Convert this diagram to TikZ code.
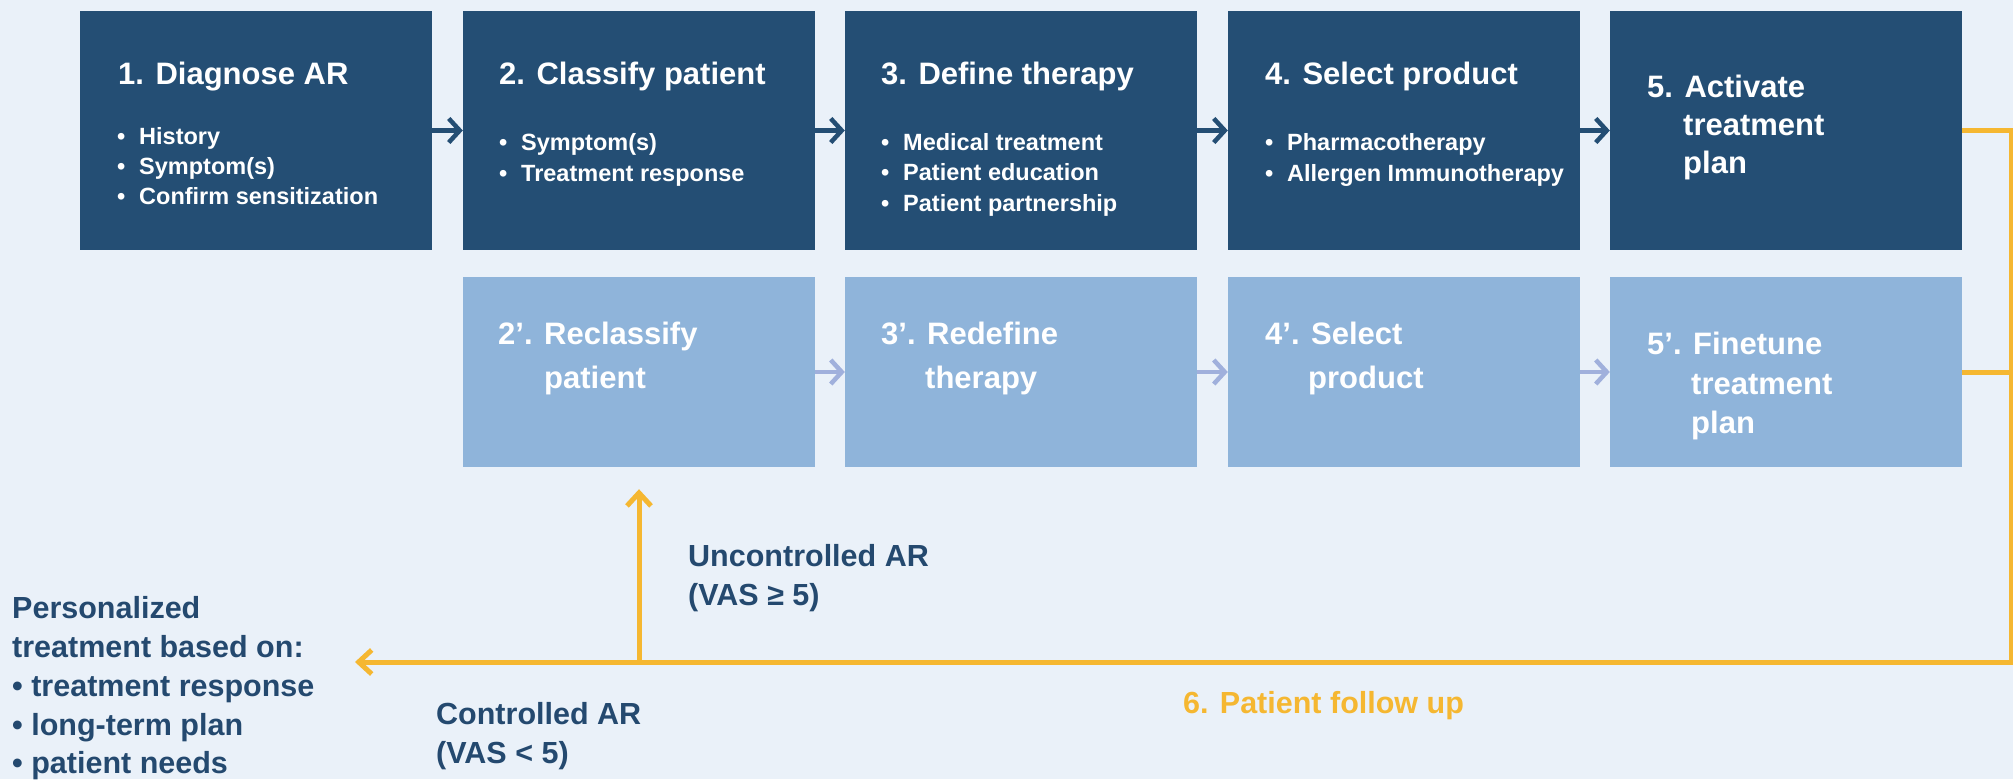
\documentclass[tikz,border=0pt]{standalone}
\usepackage{fontspec}
\setmainfont{Liberation Sans}
\usetikzlibrary{arrows.meta}
\definecolor{bgc}{HTML}{EAF1F9}
\definecolor{darkbox}{HTML}{244E74}
\definecolor{lightbox}{HTML}{8FB4DA}
\definecolor{yel}{HTML}{F5B731}
\definecolor{larrow}{HTML}{A0B0DC}
\definecolor{dtext}{HTML}{24496F}
\tikzset{
  dark/.style={fill=darkbox, draw=none, inner sep=0pt, minimum width=352pt, minimum height=239pt},
  light/.style={fill=lightbox, draw=none, inner sep=0pt, minimum width=352pt, minimum height=190pt},
  ttl/.style={anchor=base west, inner sep=0pt, text=white, font=\bfseries\fontsize{31}{38}\selectfont},
  bul/.style={anchor=base west, inner sep=0pt, text=white, font=\bfseries\fontsize{23.5}{30}\selectfont},
  lab/.style={anchor=base west, inner sep=0pt, text=dtext, font=\bfseries\fontsize{30.5}{38}\selectfont},
  darr/.style={draw=darkbox, line width=4.5pt, -{Straight Barb[length=11pt,width=24pt]}},
  larr/.style={draw=larrow, line width=4.5pt, -{Straight Barb[length=11pt,width=24pt]}},
  yline/.style={draw=yel, line width=5pt},
  yarr/.style={draw=yel, line width=5pt, -{Straight Barb[length=13pt,width=24pt]}}
}
\begin{document}
\begin{tikzpicture}[x=1pt, y=-1pt]
\fill[bgc] (0,0) rectangle (2013,779);
\useasboundingbox (0,0) rectangle (2013,779);
% top row
\node[dark] (b1) at (256,130.5) {};
\node[dark] (b2) at (639,130.5) {};
\node[dark] (b3) at (1021,130.5) {};
\node[dark] (b4) at (1404,130.5) {};
\node[dark] (b5) at (1786,130.5) {};
% bottom row
\node[light] (r2) at (639,372) {};
\node[light] (r3) at (1021,372) {};
\node[light] (r4) at (1404,372) {};
\node[light] (r5) at (1786,372) {};
% top arrows
\draw[darr] (b1.east) -- (b2.west);
\draw[darr] (b2.east) -- (b3.west);
\draw[darr] (b3.east) -- (b4.west);
\draw[darr] (b4.east) -- (b5.west);
% bottom arrows
\draw[larr] (r2.east) -- (r3.west);
\draw[larr] (r3.east) -- (r4.west);
\draw[larr] (r4.east) -- (r5.west);
% texts box 1
\node[ttl] (t1) at (118,84) {1. Diagnose AR};
\node[bul] (t1a) at (117,144) {•};
\node[bul] (t1b) at (139,144) {History};
\node[bul] (t1c) at (117,174) {•};
\node[bul] (t1d) at (139,174) {Symptom(s)};
\node[bul] (t1e) at (117,204) {•};
\node[bul] (t1f) at (139,204) {Confirm sensitization};
% box 2
\node[ttl] (t2) at (499,84) {2. Classify patient};
\node[bul] (t2a) at (499,150) {•};
\node[bul] (t2b) at (521,150) {Symptom(s)};
\node[bul] (t2c) at (499,181) {•};
\node[bul] (t2d) at (521,181) {Treatment response};
% box 3
\node[ttl] (t3) at (881,84) {3. Define therapy};
\node[bul] (t3a) at (881,150) {•};
\node[bul] (t3b) at (903,150) {Medical treatment};
\node[bul] (t3c) at (881,180.5) {•};
\node[bul] (t3d) at (903,180.5) {Patient education};
\node[bul] (t3e) at (881,211) {•};
\node[bul] (t3f) at (903,211) {Patient partnership};
% box 4
\node[ttl] (t4) at (1265,84) {4. Select product};
\node[bul] (t4a) at (1265,150) {•};
\node[bul] (t4b) at (1287,150) {Pharmacotherapy};
\node[bul] (t4c) at (1265,181) {•};
\node[bul] (t4d) at (1287,181) {Allergen Immunotherapy};
% box 5
\node[ttl] (t5) at (1647,97) {5. Activate};
\node[ttl] (t5b) at (1683,135) {treatment};
\node[ttl] (t5c) at (1683,173) {plan};
% bottom texts
\node[ttl] (s2) at (498,344) {2’. Reclassify};
\node[ttl] (s2b) at (544,388) {patient};
\node[ttl] (s3) at (881,344) {3’. Redefine};
\node[ttl] (s3b) at (925,388) {therapy};
\node[ttl] (s4) at (1265,344) {4’. Select};
\node[ttl] (s4b) at (1308,388) {product};
\node[ttl] (s5) at (1647,354) {5’. Finetune};
\node[ttl] (s5b) at (1691,394) {treatment};
\node[ttl] (s5c) at (1691,433) {plan};
% yellow loop
\coordinate (cb) at (2011,662);
\coordinate (ce) at (355,662);
\draw[yline] (r5.east) -- (r5.east -| cb);
\draw[yarr] (b5.east) -| (cb) -- (ce);
\draw[yarr, shorten >=22pt] (r2.south |- cb) -- (r2.south);
% labels
\node[lab] (u1) at (688,566) {Uncontrolled AR};
\node[lab] (u2) at (688,605) {(VAS ≥ 5)};
\node[lab] (c1) at (436,724) {Controlled AR};
\node[lab] (c2) at (436,763) {(VAS < 5)};
\node[lab] (p1) at (12,618) {Personalized};
\node[lab] (p2) at (12,657) {treatment based on:};
\node[lab] (p3) at (12,696) {• treatment response};
\node[lab] (p4) at (12,735) {• long-term plan};
\node[lab] (p5) at (12,773) {• patient needs};
\node[lab, text=yel] (f6) at (1183,713) {6. Patient follow up};
\end{tikzpicture}
\end{document}
